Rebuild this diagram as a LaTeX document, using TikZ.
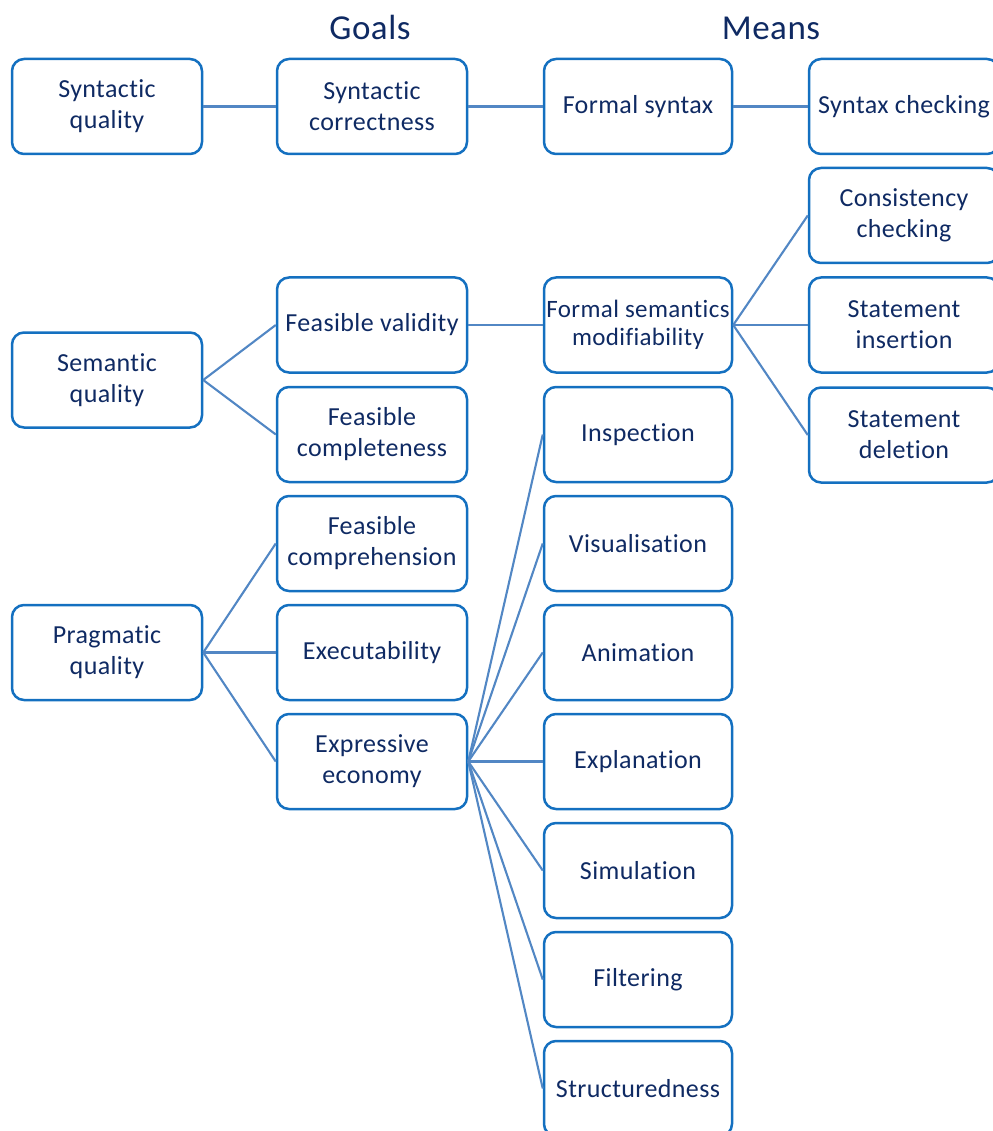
\documentclass[tikz,border=0pt]{standalone}
\usepackage{fontspec}
\setmainfont[LetterSpace=1.5,Ligatures={NoCommon}]{Carlito}
\definecolor{boxline}{HTML}{1470C0}
\definecolor{linkline}{HTML}{5287C4}
\definecolor{ink}{HTML}{0F2A63}
\begin{document}
\begin{tikzpicture}[x=1pt,y=-1pt,
  box/.style={draw=boxline, line width=2.5pt, rounded corners=12pt,
    minimum width=190pt, minimum height=95pt, inner sep=0pt,
    align=center, text=ink, font=\fontsize{26}{31}\selectfont},
  link/.style={draw=linkline, line width=2.1pt},
  heading/.style={text=ink, anchor=base, font=\fontsize{35}{42}\selectfont}]
\useasboundingbox (0,0) rectangle (992,1131);

% column headings
\node[heading] (goals) at (370,40) {Goals};
\node[heading] (means) at (771,40) {Means};

% quality types
\node[box] (synq) at (107,106.5) {Syntactic\\quality};
\node[box] (semq) at (107,380) {Semantic\\quality};
\node[box] (praq) at (107,652.5) {Pragmatic\\quality};

% goals
\node[box] (syncor) at (372,106.5) {Syntactic\\correctness};
\node[box] (fval)   at (372,325)   {Feasible validity};
\node[box] (fcomp)  at (372,434.5) {Feasible\\completeness};
\node[box] (fcompr) at (372,543.5) {Feasible\\comprehension};
\node[box] (exec)   at (372,652.5) {Executability};
\node[box] (expr)   at (372,761.5) {Expressive\\economy};

% means
\node[box, minimum width=188pt] (fsyn)  at (638,106.5) {Formal syntax};
\node[box, minimum width=188pt, font=\fontsize{25}{28}\selectfont] (fsem) at (638,325) {Formal semantics\\modifiability};
\node[box, minimum width=188pt] (insp)  at (638,434.5) {Inspection};
\node[box, minimum width=188pt] (vis)   at (638,543.5) {Visualisation};
\node[box, minimum width=188pt] (anim)  at (638,652.5) {Animation};
\node[box, minimum width=188pt] (expl)  at (638,761.5) {Explanation};
\node[box, minimum width=188pt] (sim)   at (638,870.5) {Simulation};
\node[box, minimum width=188pt] (filt)  at (638,979.5) {Filtering};
\node[box, minimum width=188pt] (struc) at (638,1088.5) {Structuredness};

\node[box] (synchk) at (904,106.5) {Syntax checking};
\node[box] (conchk) at (904,215.5) {Consistency\\checking};
\node[box] (stins)  at (904,325)   {Statement\\insertion};
\node[box] (stdel)  at (904,435)   {Statement\\deletion};

% connectors
\draw[link] (synq.east) -- (syncor.west);
\draw[link] (syncor.east) -- (fsyn.west);
\draw[link] (fsyn.east) -- (synchk.west);

\draw[link] (semq.east) -- (fval.west);
\draw[link] (semq.east) -- (fcomp.west);
\draw[link] (fval.east) -- (fsem.west);
\draw[link] (fsem.east) -- (conchk.west);
\draw[link] (fsem.east) -- (stins.west);
\draw[link] (fsem.east) -- (stdel.west);

\draw[link] (praq.east) -- (fcompr.west);
\draw[link] (praq.east) -- (exec.west);
\draw[link] (praq.east) -- (expr.west);

\foreach \m in {insp,vis,anim,expl,sim,filt,struc}
  \draw[link] (expr.east) -- (\m.west);
\end{tikzpicture}
\end{document}
